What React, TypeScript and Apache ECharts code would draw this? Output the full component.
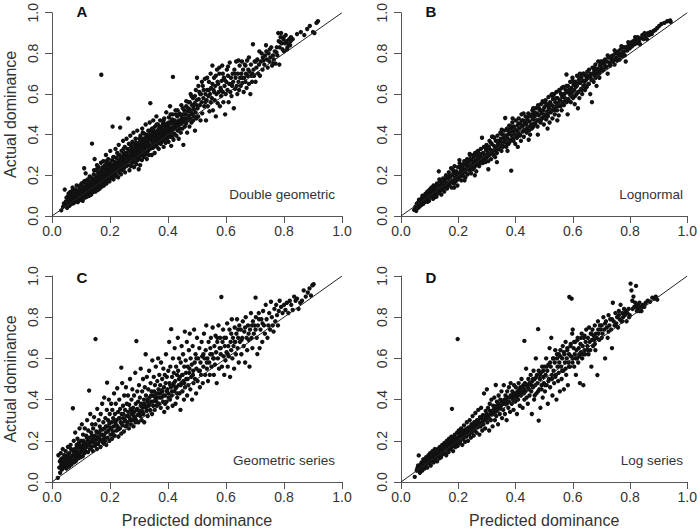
import React, { useEffect, useRef } from "react";
import * as echarts from "echarts";

// Values are given in thousandths, as flat [x, y, x, y, ...] lists.
const doubleGeometric = [
  32,28, 38,45, 41,62, 44,130, 46,55, 48,72, 50,90, 52,40, 55,65, 57,110, 58,82, 60,50,
  62,95, 63,70, 65,120, 66,58, 68,85, 70,105, 71,140, 72,75, 74,62, 75,95, 77,115, 78,88, 80,70, 81,130, 82,100, 84,80, 85,150, 86,112, 88,92, 89,68, 90,125, 92,85, 93,105, 95,140, 96,78, 97,118, 99,95,
  101,110, 102,160, 104,88, 105,132, 106,75, 107,120, 108,145, 110,98, 111,235, 112,172, 113,115, 114,90, 116,210, 117,138, 118,108, 119,155, 120,125, 121,95, 123,180, 124,140, 125,112, 126,160, 128,130, 129,100, 130,195, 131,148, 133,120, 134,170, 135,105, 136,138, 138,155, 139,125, 138,356,
  140,185, 141,145, 142,118, 144,205, 145,162, 146,135, 147,280, 148,178, 149,150, 150,120, 151,225, 152,195, 153,165, 154,140, 155,250, 156,182, 157,155, 158,128, 159,210, 160,172, 161,240, 162,148, 163,195, 164,165, 165,135, 166,220, 167,185, 168,158, 169,262, 170,200, 170,695, 171,175, 172,145, 173,230, 174,190, 175,160, 176,210, 177,270, 178,180, 179,150,
  180,225, 181,195, 182,170, 183,250, 184,210, 185,185, 186,300, 187,235, 188,160, 189,205, 190,260, 191,190, 192,225, 193,175, 194,280, 195,215, 196,245, 197,198, 198,170, 199,230, 200,205, 201,320, 202,185, 203,255, 204,215, 205,240, 206,195, 207,275, 208,225, 209,440, 210,205, 211,250, 212,180, 213,235, 214,290, 215,210, 216,265, 217,195, 218,240, 219,330,
  220,220, 221,255, 222,285, 223,200, 224,240, 225,310, 226,225, 227,265, 228,190, 229,245, 230,350, 231,275, 232,215, 233,300, 234,250, 235,435, 236,230, 237,285, 238,205, 239,260, 240,320, 241,240, 242,290, 243,270, 244,225, 245,370, 246,255, 247,305, 248,235, 249,280, 250,255, 251,340, 252,215, 253,295, 254,265, 255,310, 256,245, 257,380, 258,285, 259,260,
  260,300, 261,330, 262,250, 263,480, 264,275, 265,355, 266,290, 267,225, 268,320, 269,270, 270,395, 271,300, 272,245, 273,340, 274,285, 275,315, 276,260, 277,365, 278,295, 279,330, 280,275, 281,410, 282,305, 283,240, 284,350, 285,285, 286,320, 287,265, 288,380, 289,300, 290,335, 291,255, 292,360, 293,290, 294,420, 295,315, 296,275, 297,345, 298,305, 299,230,
  300,330, 301,285, 302,360, 303,310, 304,250, 305,395, 306,340, 307,300, 308,370, 309,325, 310,275, 311,430, 312,345, 313,305, 314,380, 315,330, 316,290, 317,355, 318,405, 319,320, 320,365, 321,300, 322,340, 323,450, 324,385, 325,315, 326,355, 327,280, 328,400, 329,340, 330,370, 331,320, 332,420, 333,355, 334,300, 335,385, 336,345, 337,460, 338,330, 339,555,
  340,375, 341,410, 342,340, 343,385, 344,300, 345,430, 346,360, 347,395, 348,335, 349,470, 350,380, 351,350, 352,415, 353,375, 354,310, 355,440, 356,390, 357,355, 358,405, 359,370, 360,490, 361,390, 362,340, 363,420, 364,380, 365,450, 366,360, 367,400, 368,330, 369,430, 370,395, 371,370, 372,415, 373,470, 374,385, 375,355, 376,410, 377,390, 378,440, 379,365,
  380,400, 381,425, 382,370, 383,455, 384,395, 385,340, 386,420, 387,480, 388,405, 389,380, 390,440, 391,415, 392,360, 393,395, 394,510, 395,430, 396,405, 397,380, 398,455, 399,420, 400,395, 401,440, 402,365, 403,485, 404,415, 405,400, 406,430, 407,540, 408,390, 409,455, 410,420, 411,345, 412,470, 413,410, 414,435, 415,390, 416,500, 417,425, 417,684, 418,460, 419,375,
  420,440, 422,405, 423,470, 425,430, 426,520, 428,455, 429,395, 431,440, 432,490, 434,420, 435,465, 437,380, 438,450, 440,505, 441,430, 443,470, 444,410, 446,545, 447,455, 449,480, 450,430, 452,500, 453,350, 455,465, 456,520, 458,440, 459,480,
  460,500, 462,455, 463,540, 465,480, 466,410, 468,515, 469,470, 471,560, 472,495, 474,440, 475,525, 477,480, 478,600, 480,510, 481,460, 483,545, 484,500, 486,580, 487,470, 489,525, 490,490, 492,555, 493,420, 495,510, 496,620, 498,480, 499,545,
  500,680, 502,530, 504,490, 506,575, 508,610, 510,545, 512,470, 514,600, 516,560, 518,505, 520,640, 522,580, 525,540, 527,675, 529,600, 531,470, 533,570, 535,620, 537,540, 539,590, 541,660, 543,515, 545,600, 547,560, 549,630,
  551,580, 553,740, 555,520, 557,620, 559,680, 561,570, 563,640, 565,490, 567,600, 569,720, 571,555, 573,650, 575,610, 577,700, 579,540, 581,630, 583,590, 585,665, 587,740, 589,610, 591,560, 593,680, 595,640, 597,500, 599,600,
  601,660, 603,720, 605,620, 607,690, 609,560, 611,650, 613,755, 615,610, 617,680, 619,590, 621,640, 623,700, 625,660, 627,530, 629,720, 631,625, 633,680, 635,760, 637,640, 639,600, 641,700, 643,660, 645,620, 647,740, 649,680,
  651,640, 653,700, 655,760, 657,655, 659,720, 661,610, 663,680, 665,745, 667,660, 669,700, 671,630, 673,765, 675,690, 677,720, 679,650, 681,710, 684,600, 686,745, 688,690, 690,660, 693,845, 695,720, 697,690, 699,760,
  702,660, 705,730, 708,770, 711,700, 714,745, 717,690, 720,760, 723,800, 726,720, 729,765, 732,745, 735,790, 738,840, 741,770, 744,730, 747,800, 750,760, 753,780, 756,830, 759,740, 762,790, 765,770, 768,810, 771,750, 774,805, 777,790,
  780,900, 782,860, 784,745, 785,830, 788,880, 790,900, 792,850, 795,820, 798,870, 800,810, 803,850, 806,890, 809,860, 812,830, 815,845, 818,870, 821,840, 824,880, 830,870, 845,895, 858,905, 870,890, 880,920, 889,935, 900,905, 905,900, 912,950, 917,958,
];
const doubleGeometricMore = [
  55,95, 61,115, 67,100, 73,130, 79,105, 85,90, 91,110, 97,150, 103,125, 109,165, 115,135, 121,175, 127,145, 133,190, 139,170, 145,225, 151,180, 157,235, 163,215, 169,190,
  175,240, 181,210, 187,270, 193,240, 199,260, 205,225, 211,290, 217,265, 223,245, 229,300, 235,275, 241,260, 247,330, 253,310, 259,285, 265,320, 271,350, 277,310, 283,330, 289,360,
  295,345, 301,380, 307,355, 313,410, 319,380, 325,345, 331,395, 337,420, 343,400, 349,430, 355,410, 361,450, 367,420, 373,440, 379,400, 385,470, 391,450, 397,430, 403,460, 409,500,
  415,475, 421,455, 427,500, 433,520, 439,470, 445,495, 451,530, 457,500, 463,565, 469,530, 475,560, 481,590, 487,540, 493,590, 499,570, 505,640, 511,600, 517,660, 523,620, 529,560,
  535,680, 541,620, 547,700, 553,650, 559,610, 565,690, 571,660, 577,730, 583,620, 589,700, 595,670, 607,735, 619,650, 631,700, 643,765, 655,680, 667,740, 679,780, 691,700, 703,760,
  715,810, 727,780, 739,810, 751,820, 763,750, 775,830, 787,855, 799,880, 811,820, 823,860,
];

const lognormal = [
  46,30, 50,45, 53,25, 55,60, 58,52, 60,40, 62,70, 64,58, 66,48, 68,80, 70,62, 72,55, 74,90, 76,72, 78,60, 80,100, 82,85, 84,70, 86,110, 88,78, 90,95, 92,120, 94,88, 96,105, 98,75,
  100,130, 102,95, 104,115, 106,140, 108,100, 110,125, 112,85, 114,150, 116,118, 118,105, 120,140, 122,125, 124,95, 126,160, 128,130, 130,112, 132,220, 133,150, 135,120, 137,170, 139,140, 141,105, 143,160, 145,130, 147,185, 149,150, 151,120, 153,175, 155,145, 157,200, 159,160,
  161,135, 163,185, 165,165, 167,215, 169,150, 171,190, 173,170, 175,235, 177,140, 179,200, 181,175, 183,210, 185,160, 187,245, 189,190, 191,170, 193,220, 195,200, 197,150, 199,240, 201,185, 203,210, 205,260, 207,195, 209,225, 211,175, 213,250, 215,210, 217,235, 219,195,
  221,270, 223,220, 225,190, 227,250, 229,230, 231,280, 233,205, 235,245, 237,265, 239,225, 241,300, 243,245, 245,210, 247,275, 249,255, 251,230, 253,290, 255,265, 257,240, 259,310, 261,275, 263,220, 265,295, 267,260, 269,320, 271,280, 273,245, 275,300, 277,270, 279,330,
  281,290, 283,385, 285,260, 287,310, 289,280, 291,340, 293,300, 295,265, 297,325, 299,350, 301,290, 303,310, 305,270, 307,340, 309,370, 311,305, 313,325, 315,280, 317,355, 319,320, 321,390, 323,300, 325,345, 327,325, 329,290, 331,370, 333,340, 335,310, 337,395, 339,355,
  341,330, 343,370, 345,345, 347,410, 349,380, 351,320, 353,360, 355,400, 357,345, 359,380, 361,420, 363,365, 364,482, 366,395, 368,340, 370,430, 372,380, 374,400, 376,355, 378,445, 380,410, 382,375, 384,430, 385,223, 387,395, 389,460, 391,415, 393,370, 395,440, 397,400, 399,355,
  401,470, 403,420, 405,385, 407,445, 409,410, 411,480, 413,430, 415,395, 417,455, 419,370, 421,500, 423,440, 425,415, 427,470, 429,390, 431,450, 433,425, 435,490, 437,455, 439,410, 441,475, 443,440, 445,505, 447,420, 449,465, 451,400, 453,490, 455,450, 457,430, 459,520,
  461,475, 463,440, 465,510, 467,490, 469,455, 471,530, 473,470, 475,505, 477,440, 479,545, 481,495, 483,470, 485,520, 487,460, 489,550, 491,505, 493,480, 495,565, 497,520, 499,450, 501,535, 503,500, 505,570, 507,475, 509,545, 511,515, 513,490, 515,585, 517,530, 519,460,
  521,560, 523,510, 525,595, 527,545, 529,480, 531,575, 533,530, 535,600, 537,500, 539,560, 541,540, 543,610, 545,520, 547,580, 549,555, 551,495, 553,620, 555,570, 557,540, 559,600, 561,520, 563,585, 565,560, 567,635, 569,545, 571,600, 573,580, 575,620, 578,696, 579,560,
  581,610, 583,640, 585,575, 587,620, 589,600, 591,660, 593,560, 595,630, 597,605, 599,680, 601,580, 603,645, 605,620, 607,550, 609,660, 611,635, 613,600, 615,690, 617,650, 619,610, 621,670, 623,580, 625,700, 627,655, 629,625, 631,685, 633,600, 635,665, 637,640, 639,700,
  641,660, 643,620, 645,690, 647,670, 649,635, 651,710, 653,680, 655,650, 657,720, 659,690, 661,600, 663,700, 665,670, 667,560, 669,730, 671,700, 673,660, 675,715, 677,690, 679,745, 681,705, 683,640, 685,725, 687,700, 689,760, 691,720, 693,680, 695,740, 697,715, 699,750,
  701,730, 704,760, 707,720, 710,745, 713,770, 716,735, 719,760, 722,700, 725,780, 728,755, 731,740, 734,775, 737,760, 740,790, 743,770, 746,745, 749,800, 752,780, 755,765, 758,810, 761,790, 764,770, 767,820, 770,800, 773,785, 776,830, 779,810, 782,790, 785,760, 788,830,
  791,815, 795,840, 799,825, 803,850, 807,835, 811,860, 815,845, 819,870, 823,850, 827,880, 831,860, 835,845, 839,875, 843,890, 847,870, 851,900, 855,885, 859,870, 863,900, 867,890, 871,905, 876,895, 882,910, 888,915, 895,925, 902,935, 910,945, 920,950, 930,958, 940,962, 942,955,
];
const lognormalMore = [
  57,62, 63,80, 69,55, 75,100, 81,78, 87,95, 93,70, 99,125, 105,98, 111,140, 117,92, 123,150, 129,118, 134,180, 140,128, 146,165, 152,140, 158,190, 164,150, 170,200,
  176,165, 182,225, 188,175, 194,215, 200,180, 206,240, 212,200, 218,255, 224,215, 230,260, 236,230, 242,280, 248,235, 254,300, 260,250, 266,315, 272,255, 278,305, 284,270, 290,340,
  296,285, 302,330, 308,300, 314,360, 320,310, 326,385, 332,325, 338,370, 344,330, 350,405, 356,340, 362,395, 368,360, 374,420, 380,365, 386,440, 392,380, 398,425, 404,395, 410,455,
  416,400, 422,470, 428,420, 434,460, 440,430, 446,490, 452,440, 458,500, 464,450, 470,505, 476,470, 482,530, 488,470, 494,520, 500,490, 506,555, 512,500, 518,545, 524,520, 530,590,
  536,520, 542,580, 548,540, 554,615, 560,545, 566,600, 572,565, 578,640, 584,570, 590,620, 596,590, 602,655, 608,590, 614,640, 620,610, 626,680, 632,620, 638,665, 644,640, 650,690,
  656,650, 662,685, 668,670, 674,730, 680,680, 686,715, 692,700, 698,760, 704,715, 710,760, 716,730, 722,790, 728,740, 734,785, 740,760, 746,815, 752,770, 758,800, 764,790, 770,835,
  776,800, 782,830, 788,815, 794,855, 800,830, 806,855, 812,845, 818,880, 824,860, 830,875,
  186,140, 204,275, 222,175, 240,305, 258,200, 305,230, 318,390, 335,265, 352,425, 372,320, 390,480, 408,340, 428,505, 446,375, 462,530, 478,400, 496,560, 512,430, 528,600, 546,470,
  562,630, 582,500, 600,665, 618,530, 636,700,
];

const geometricSeries = [
  20,20, 22,130, 25,70, 27,100, 28,45, 30,140, 32,85, 34,60, 35,115, 37,160, 39,95, 40,70, 42,130, 44,110, 45,80, 47,150, 49,100, 50,65, 52,125, 54,90, 55,170, 57,110, 59,75,
  60,140, 62,100, 64,180, 65,120, 67,85, 68,155, 70,105, 72,358, 73,130, 75,200, 76,95, 78,160, 79,120, 80,240, 82,140, 83,105, 85,180, 86,130, 88,210, 89,150, 91,115, 92,190, 94,135, 95,260, 97,165, 98,120,
  100,200, 101,145, 103,280, 104,175, 106,125, 107,230, 109,160, 110,190, 112,140, 113,260, 115,185, 116,150, 118,225, 119,170, 121,300, 122,200, 124,145, 125,250, 127,180, 128,444, 129,215, 131,160, 132,330, 134,195, 135,240, 137,170, 138,280, 139,205,
  141,150, 142,260, 144,190, 145,315, 147,225, 148,175, 150,694, 150,280, 152,205, 153,245, 155,160, 156,355, 158,220, 159,185, 161,300, 162,240, 164,200, 165,270, 167,170, 168,330, 170,230, 171,205, 173,380, 174,255, 176,190, 177,290, 179,225,
  180,410, 181,260, 183,200, 184,310, 186,240, 187,180, 189,350, 190,482, 190,270, 192,215, 193,300, 195,250, 196,400, 198,200, 199,330, 201,265, 202,230, 204,380, 205,290, 207,210, 208,350, 210,245, 211,310, 213,270, 214,430, 216,225, 217,330, 219,285,
  220,380, 222,250, 223,300, 225,455, 226,270, 228,340, 229,220, 231,310, 232,400, 234,260, 235,355, 237,290, 239,555, 239,235, 240,330, 242,480, 243,275, 245,370, 246,310, 248,245, 249,420, 251,295, 252,350, 254,270, 255,460, 257,320, 258,380,
  260,290, 262,420, 263,340, 265,260, 266,375, 268,310, 269,500, 271,355, 272,280, 274,400, 275,330, 277,450, 278,300, 280,360, 281,270, 283,420, 284,340, 286,310, 287,530, 289,380, 290,300, 291,684, 292,350, 294,440, 295,325, 297,390, 298,290,
  300,470, 302,345, 303,410, 305,320, 306,550, 308,380, 309,300, 311,440, 312,360, 314,500, 315,330, 317,400, 318,290, 320,460, 321,370, 323,620, 324,420, 326,345, 327,510, 329,390, 330,320, 332,450, 333,370, 335,540, 336,410, 338,350,
  340,480, 342,390, 343,440, 345,330, 346,590, 348,420, 349,370, 351,510, 352,440, 354,350, 355,470, 357,400, 358,560, 360,430, 361,370, 363,490, 364,410, 366,600, 367,450, 369,380, 370,520, 372,430, 373,470, 375,360, 376,580, 378,410,
  380,500, 381,440, 383,390, 384,550, 386,460, 387,340, 389,520, 390,420, 392,480, 393,620, 395,390, 396,510, 398,450, 399,360, 401,540, 402,430, 404,680, 405,480, 407,400, 408,560, 410,460, 411,742, 413,420, 414,510, 416,370, 417,600, 419,470,
  420,530, 422,440, 423,650, 425,490, 426,380, 428,560, 429,460, 431,520, 432,410, 434,700, 435,540, 437,470, 438,600, 440,430, 441,510, 443,350, 444,580, 446,480, 447,660, 449,520, 450,440, 452,620, 453,490, 455,400, 456,560, 458,730, 459,460,
  461,590, 463,500, 465,680, 466,420, 468,560, 470,470, 472,640, 473,530, 475,720, 477,450, 478,600, 480,510, 482,570, 483,400, 485,660, 487,540, 488,480, 490,740, 492,580, 493,500, 495,620, 497,430, 498,550,
  500,700, 502,490, 504,600, 506,540, 508,650, 510,460, 512,580, 514,520, 516,680, 518,610, 520,480, 522,560, 524,720, 526,600, 528,520, 530,640, 532,760, 534,550, 536,600, 538,490, 540,680, 542,580, 544,520, 546,620, 548,700,
  550,560, 552,620, 554,750, 556,600, 558,520, 560,660, 562,570, 564,710, 566,630, 568,480, 570,680, 572,600, 574,760, 576,550, 578,650, 580,700, 582,620, 584,898, 586,560, 588,680, 590,740, 592,610, 594,520, 596,660, 598,590,
  600,700, 602,630, 604,770, 606,560, 608,660, 610,610, 612,740, 614,510, 616,680, 618,640, 620,790, 622,600, 624,700, 626,660, 628,550, 630,750, 632,680, 634,620, 636,720, 638,790, 640,650, 642,700, 644,580, 646,760, 648,680,
  651,740, 653,620, 656,700, 658,780, 661,660, 663,730, 666,580, 668,800, 671,700, 673,640, 676,760, 678,690, 681,560, 683,740, 686,820, 688,700, 691,650, 693,780, 696,720, 698,760,
  702,895, 703,800, 706,700, 708,621, 710,760, 713,820, 716,650, 719,740, 722,790, 725,680, 728,830, 731,760, 734,720, 737,860, 740,790, 743,700, 746,760, 749,820, 752,740, 755,875, 758,800, 761,760, 764,730, 767,840, 770,780, 773,860, 776,810, 779,760, 782,830, 785,880,
  790,850, 795,820, 800,860, 805,835, 810,870, 815,820, 820,880, 825,860, 830,835, 835,900, 840,880, 845,890, 850,840, 856,870, 862,880, 868,930, 875,900, 882,920, 888,940, 893,905, 898,955, 902,960,
];
const geometricSeriesMore = [
  31,110, 36,75, 41,95, 46,125, 51,85, 56,135, 61,90, 66,160, 71,125, 76,145, 81,100, 86,170, 91,135, 96,180, 102,160, 108,200, 114,170, 120,215, 126,195, 132,175,
  138,225, 144,210, 150,185, 156,240, 162,215, 168,255, 174,230, 180,210, 186,270, 192,245, 198,285, 204,260, 210,230, 216,295, 222,275, 228,255, 234,310, 240,285, 246,330, 252,300,
  258,275, 264,320, 270,300, 276,345, 282,320, 288,290, 294,355, 300,330, 306,370, 312,340, 318,380, 324,360, 330,400, 336,375, 342,420, 348,390, 354,415, 360,390, 366,430, 372,410,
  378,445, 384,420, 390,380, 396,440, 402,410, 408,470, 414,440, 420,480, 426,455, 432,430, 438,500, 444,470, 450,520, 456,480, 462,530, 468,500, 474,550, 486,520, 498,600, 510,540,
  522,620, 534,580, 546,650, 558,600, 570,700, 582,650, 594,700, 606,620, 618,720, 630,680, 642,740, 654,690, 666,750, 678,720, 690,760, 702,740, 714,790, 726,770,
];

const logSeries = [
  48,25, 55,55, 58,70, 62,129, 64,60, 66,45, 68,80, 70,65, 72,95, 74,55, 76,75, 78,110, 80,85, 82,65, 84,100, 86,80, 88,120, 90,95, 92,70, 94,110, 96,130, 98,90,
  100,105, 102,140, 104,80, 106,120, 108,100, 110,150, 112,115, 114,95, 116,135, 118,160, 120,110, 122,140, 124,125, 126,100, 128,160, 130,130, 132,145, 134,115, 136,170, 138,140, 140,120, 142,155, 144,180, 146,135, 148,165,
  150,150, 152,190, 154,140, 156,170, 158,130, 160,200, 162,160, 164,180, 166,145, 168,210, 170,175, 172,160, 174,195, 176,220, 178,355, 178,170, 180,190, 182,150, 184,215, 186,185, 188,230, 190,170, 192,205, 194,190, 196,240, 198,694, 198,175,
  200,215, 202,250, 204,190, 206,230, 208,200, 210,260, 212,220, 214,180, 216,245, 218,210, 220,275, 222,230, 224,195, 226,255, 228,220, 230,290, 232,240, 234,200, 236,265, 238,230, 240,300, 242,250, 244,215, 246,280, 248,240,
  250,320, 252,260, 254,225, 256,290, 258,250, 260,335, 262,275, 264,240, 266,300, 268,265, 270,350, 272,280, 274,230, 276,315, 278,270, 280,360, 282,290, 284,250, 286,325, 288,280, 290,430, 292,300, 294,260, 296,345, 298,310,
  300,450, 302,290, 304,360, 306,320, 308,250, 310,380, 312,330, 314,300, 316,400, 318,345, 320,270, 322,370, 324,330, 326,410, 328,300, 330,360, 331,471, 333,320, 335,390, 337,350, 339,280, 341,420, 343,360, 345,330, 347,400, 349,370,
  351,440, 353,310, 355,390, 357,350, 359,470, 361,400, 363,330, 365,420, 367,380, 369,300, 371,440, 373,390, 375,360, 377,460, 379,410, 381,340, 383,480, 385,420, 387,380, 389,440, 391,400, 393,350, 395,470, 397,420, 399,390,
  401,460, 403,410, 405,330, 407,440, 409,400, 411,480, 413,430, 415,370, 417,460, 419,420, 421,500, 423,440, 425,360, 427,470, 429,430, 431,685, 431,400, 433,480, 435,440, 437,550, 439,410, 441,470, 443,380, 445,500, 447,450, 449,420,
  451,480, 453,520, 455,440, 457,330, 459,490, 461,460, 463,540, 465,400, 467,500, 469,470, 471,600, 473,430, 475,520, 477,480, 479,742, 481,298, 481,540, 483,450, 485,500, 487,360, 489,530, 491,470, 493,560, 495,410, 497,510, 499,480,
  501,560, 503,440, 505,520, 507,600, 509,470, 511,540, 513,380, 515,570, 517,500, 519,650, 521,460, 523,560, 525,700, 527,520, 529,420, 531,600, 533,540, 535,480, 537,580, 539,640, 541,520, 543,400, 545,600, 547,560, 549,490,
  551,620, 553,580, 555,440, 557,640, 559,560, 561,500, 563,600, 565,660, 567,540, 569,450, 571,620, 573,580, 575,680, 577,520, 579,600, 581,640, 583,470, 585,580, 587,620, 588,898, 590,560, 592,660, 594,610, 596,890, 598,720,
  600,740, 601,600, 603,650, 605,560, 607,620, 609,680, 611,520, 613,640, 615,600, 617,700, 619,580, 621,650, 623,620, 625,480, 627,670, 629,630, 631,720, 633,600, 635,660, 637,470, 639,700, 641,640, 643,620, 645,680, 647,740,
  651,660, 653,700, 655,620, 657,750, 659,680, 661,640, 663,720, 665,560, 667,690, 669,740, 671,660, 673,710, 675,690, 677,760, 679,640, 681,720, 684,700, 686,519, 688,780, 690,720, 693,690, 695,760, 698,740,
  701,760, 704,720, 707,800, 710,740, 713,600, 716,780, 719,750, 722,700, 725,810, 728,760, 731,790, 734,740, 737,650, 740,870, 743,780, 746,760, 749,820, 752,770, 755,800, 758,750, 761,830, 764,790, 767,860, 770,780, 773,820, 776,800, 779,840, 782,810, 785,830, 788,780,
  791,820, 795,840, 799,810, 802,963, 805,930, 808,880, 812,900, 815,850, 818,870, 821,952, 824,830, 827,860, 830,840, 833,870, 836,850, 840,830, 845,860, 850,850, 855,870, 862,880, 870,875, 878,895, 885,890, 890,900, 895,885,
];
const logSeriesMore = [
  56,60, 60,80, 65,72, 71,88, 77,95, 83,90, 89,105, 95,100, 101,120, 107,115, 113,130, 119,140, 125,135, 131,150, 137,155, 143,165, 149,170, 155,180, 161,185, 167,190,
  173,180, 179,200, 185,200, 191,215, 197,210, 203,230, 209,240, 215,225, 221,250, 227,240, 233,260, 239,255, 245,270, 251,280, 257,270, 263,290, 269,300, 275,285, 281,310, 287,300,
  293,320, 299,330, 305,310, 311,345, 317,330, 323,350, 329,340, 335,370, 341,380, 347,360, 353,390, 359,380, 365,400, 371,410, 377,390, 383,420, 389,410, 395,430, 401,430, 407,420,
  413,450, 419,440, 425,460, 431,450, 437,470, 443,460, 449,480, 455,470, 461,500, 467,420, 473,510, 479,440, 485,520, 491,450, 497,540, 503,470, 509,560, 515,490, 521,580, 527,500,
  533,600, 539,510, 545,620, 551,530, 557,610, 563,540, 569,630, 575,550, 581,650, 587,560, 593,670, 599,580, 605,680, 611,600, 617,690, 623,610, 629,700, 635,620, 641,710, 653,640,
  665,720, 677,670, 689,740, 701,700, 713,770, 725,730, 737,790, 749,760, 761,810, 773,780, 785,820, 797,800, 809,840, 821,850, 833,830, 845,850,
];

const tickValues = [0, 0.2, 0.4, 0.6, 0.8, 1.0];
const panelLetters = ["A", "B", "C", "D"];
const panelNames = ["Double geometric", "Lognormal", "Geometric series", "Log series"];
const xAxisTitle = "Predicted dominance";
const yAxisTitle = "Actual dominance";

const FONT = "'Liberation Sans', Arial, Helvetica, sans-serif";

const toPairs = (flat: number[]) => {
  const out: number[][] = [];
  for (let i = 0; i + 1 < flat.length; i += 2) out.push([flat[i] / 1000, flat[i + 1] / 1000]);
  return out;
};

const panelData = [
  doubleGeometric.concat(doubleGeometricMore),
  lognormal.concat(lognormalMore),
  geometricSeries.concat(geometricSeriesMore),
  logSeries.concat(logSeriesMore),
];
const grids = [
  { left: 52, top: 10, width: 290, height: 206 },
  { left: 401, top: 10, width: 289, height: 206 },
  { left: 52, top: 276, width: 290, height: 206 },
  { left: 401, top: 276, width: 289, height: 206 },
];

export default function App() {
  const ref = useRef<HTMLDivElement>(null);
  useEffect(() => {
    if (!ref.current) return;
    const chart = echarts.init(ref.current, undefined, { renderer: "svg" });
    const axisColor = "#555";
    const textColor = "#333";
    const xAxes = grids.map((_, i) => ({
      type: "value",
      gridIndex: i,
      min: 0,
      max: 1,
      interval: 0.2,
      name: i >= 2 ? xAxisTitle : "",
      nameLocation: "middle",
      nameGap: 30,
      nameTextStyle: { fontSize: 16, color: textColor, fontFamily: FONT },
      axisLine: { show: true, onZero: false, lineStyle: { color: axisColor, width: 1 } },
      axisTick: { show: true, length: 7, lineStyle: { color: axisColor, width: 1 } },
      axisLabel: {
        fontSize: 14,
        color: textColor,
        fontFamily: FONT,
        margin: 8,
        showMinLabel: true,
        showMaxLabel: true,
        formatter: (v: number) => v.toFixed(1),
      },
      splitLine: { show: false },
    }));
    const yAxes = grids.map((_, i) => ({
      type: "value",
      gridIndex: i,
      min: 0,
      max: 1,
      interval: 0.2,
      name: i % 2 === 0 ? yAxisTitle : "",
      nameLocation: "middle",
      nameGap: 34,
      nameTextStyle: { fontSize: 16, color: textColor, fontFamily: FONT },
      axisLine: { show: true, onZero: false, lineStyle: { color: axisColor, width: 1 } },
      axisTick: { show: true, length: 7, lineStyle: { color: axisColor, width: 1 } },
      axisLabel: {
        fontSize: 14,
        color: textColor,
        fontFamily: FONT,
        rotate: 90,
        margin: 12,
        showMinLabel: true,
        showMaxLabel: true,
        formatter: (v: number) => v.toFixed(1),
      },
      splitLine: { show: false },
    }));
    const series: any[] = [];
    panelData.forEach((d, i) => {
      series.push({
        type: "scatter",
        xAxisIndex: i,
        yAxisIndex: i,
        data: toPairs(d),
        symbol: "circle",
        symbolSize: 4.4,
        itemStyle: { color: "#111", opacity: 1 },
        silent: true,
      });
      series.push({
        type: "line",
        xAxisIndex: i,
        yAxisIndex: i,
        data: [[tickValues[0], tickValues[0]], [tickValues[5], tickValues[5]]],
        symbol: "none",
        lineStyle: { color: "#222", width: 1 },
        silent: true,
      });
    });
    const graphic: any[] = [];
    grids.forEach((g, i) => {
      graphic.push({
        type: "text",
        x: g.left + 30,
        y: g.top + 1,
        style: {
          text: panelLetters[i],
          fill: "#111",
          fontFamily: FONT,
          fontWeight: "bold",
          fontSize: 15,
          align: "center",
          verticalAlign: "middle",
        },
      });
      graphic.push({
        type: "text",
        x: g.left + g.width - 7,
        y: g.top + 184,
        style: {
          text: panelNames[i],
          fill: textColor,
          fontFamily: FONT,
          fontSize: 13.5,
          align: "right",
          verticalAlign: "middle",
        },
      });
    });
    chart.setOption({
      animation: false,
      backgroundColor: "#fff",
      grid: grids.map((g) => ({ ...g, containLabel: false })),
      xAxis: xAxes,
      yAxis: yAxes,
      series,
      graphic,
    });
    return () => chart.dispose();
  }, []);
  return (
    <div
      ref={ref}
      style={{ position: "fixed", left: 0, top: 0, width: 700, height: 532, background: "#fff" }}
    />
  );
}
